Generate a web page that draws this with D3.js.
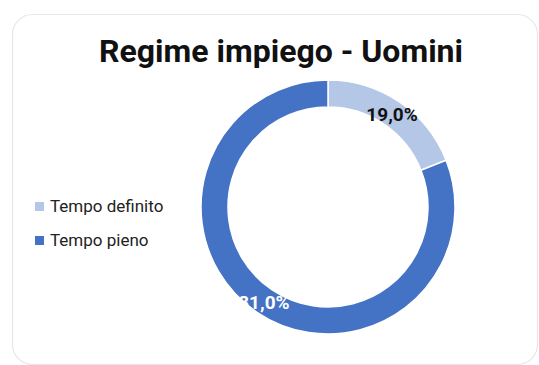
<!DOCTYPE html>
<html>
<head>
<meta charset="utf-8">
<script src="https://cdn.jsdelivr.net/npm/d3@7"></script>
<style>
  html, body { margin: 0; padding: 0; background: #fff; }
  svg { display: block; }
</style>
</head>
<body>
<svg id="chart" width="539" height="365"></svg>
<script>
const title = 'Regime impiego - Uomini';
const categories = ['Tempo definito', 'Tempo pieno'];
const values = [19.0, 81.0];
const colors = ['#b4c7e7', '#4472c4'];
const labelColors = ['#111', '#fff'];

const svg = d3.select('#chart');
const width = +svg.attr('width');
const height = +svg.attr('height');

const cx = 328, cy = 207;
const outerR = 127, innerR = 100;

// card background
svg.append('rect')
    .attr('x', 12.5).attr('y', 14.5)
    .attr('width', 525).attr('height', 350)
    .attr('rx', 20)
    .attr('fill', '#fff')
    .attr('stroke', '#e6e6e6')
    .attr('stroke-width', 1.2);

svg.append('text')
    .attr('x', 281).attr('y', 62)
    .attr('text-anchor', 'middle')
    .attr('font-family', 'Roboto, sans-serif')
    .attr('font-weight', 700)
    .attr('font-size', 32)
    .attr('fill', '#111')
    .text(title);

const data = categories.map((c, i) => ({ name: c, value: values[i], color: colors[i], label: labelColors[i] }));

const pie = d3.pie().sort(null).value(d => d.value);
const arc = d3.arc().innerRadius(innerR).outerRadius(outerR);
const labelArc = d3.arc().innerRadius(114).outerRadius(114);

const g = svg.append('g').attr('transform', `translate(${cx},${cy})`);
const arcs = pie(data);

g.selectAll('path.slice')
    .data(arcs)
    .join('path')
    .attr('class', 'slice')
    .attr('d', arc)
    .attr('fill', d => d.data.color)
    .attr('stroke', '#fff')
    .attr('stroke-width', 1.5);

const fmt = v => d3.format('.1f')(v).replace('.', ',') + '%';

g.selectAll('text.lbl')
    .data(arcs)
    .join('text')
    .attr('class', 'lbl')
    .attr('transform', d => `translate(${labelArc.centroid(d)})`)
    .attr('text-anchor', 'middle')
    .attr('dy', '0.42em')
    .attr('font-family', 'Roboto, sans-serif')
    .attr('font-weight', 700)
    .attr('font-size', 19)
    .attr('fill', d => d.data.label)
    .text(d => fmt(d.data.value));

// legend
const legend = svg.append('g').attr('transform', 'translate(35,206)');
const item = legend.selectAll('g')
    .data(data)
    .join('g')
    .attr('transform', (d, i) => `translate(0,${i * 34})`);
item.append('rect')
    .attr('x', 0).attr('y', -4)
    .attr('width', 9).attr('height', 9)
    .attr('fill', d => d.color);
item.append('text')
    .attr('x', 15).attr('y', 0)
    .attr('dy', '0.35em')
    .attr('font-family', 'Roboto, sans-serif')
    .attr('font-size', 17)
    .attr('fill', '#222')
    .text(d => d.name);
</script>
</body>
</html>
